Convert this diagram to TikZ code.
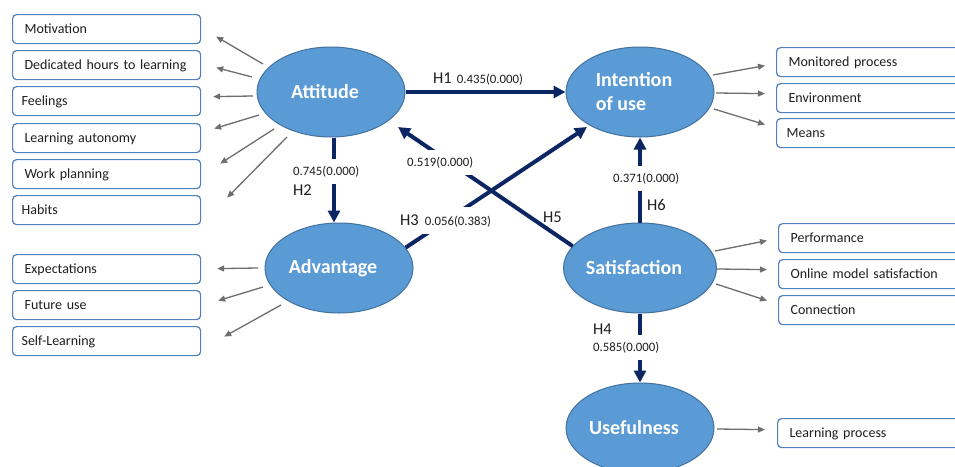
\documentclass[tikz,border=0pt]{standalone}
\usepackage{fontspec}
\setmainfont{Carlito}
\usetikzlibrary{shapes.geometric,arrows.meta}
\definecolor{ellfill}{RGB}{91,155,213}
\definecolor{elldraw}{RGB}{65,113,156}
\definecolor{navy}{RGB}{12,38,100}
\definecolor{boxblue}{RGB}{79,129,189}
\definecolor{grayarr}{RGB}{110,110,110}
\definecolor{txt}{RGB}{30,30,30}
\newcommand\tsh{\hspace*{12pt}}
\newcommand\numfont{\fontsize{12.8}{14}\selectfont}
\begin{document}
\begin{tikzpicture}[x=1pt,y=-1pt,
 ell/.style={ellipse, fill=ellfill, draw=elldraw, line width=1pt, minimum width=148pt, minimum height=90pt, inner sep=0pt, text=white, font=\bfseries\fontsize{20}{24}\selectfont, align=left},
 lbox/.style={draw=boxblue, line width=1.2pt, rounded corners=4pt, fill=white, minimum height=29pt, inner ysep=0pt, inner xsep=12pt, text width=164pt, align=left, anchor=north west, font=\fontsize{14}{16}\selectfont, text height=11pt, text depth=2pt, text=txt},
 rbox/.style={lbox, text width=176pt},
 gar/.style={draw=grayarr, line width=1.3pt, -{Triangle[length=7pt,width=6pt]}},
 nar/.style={draw=navy, line width=4pt, -{Triangle[length=12pt,width=12pt]}},
 hlab/.style={font=\fontsize{16.5}{18}\selectfont, text=txt, inner sep=0pt, anchor=base west},
 nlab/.style={font=\numfont, text=txt, fill=white, inner xsep=1pt, inner ysep=7pt, anchor=base west},
]
\useasboundingbox (0,0) rectangle (955,466);
\fill[white] (0,0) rectangle (955,466);
\clip (0,0) rectangle (955,466);

% ellipses
\node[ell] (att) at (331,92) {Attitude\tsh};
\node[ell] (adv) at (339,268) {Advantage\tsh};
\node[ell] (int) at (640,92) {Intention\tsh\\of use};
\node[ell] (sat) at (640,268) {Satisfaction\tsh};
\node[ell] (use) at (640,428) {Usefulness\tsh};

% left boxes
\node[lbox] (b1) at (12,14) {Motivation};
\node[lbox] (b2) at (12,50) {Dedicated hours to learning};
\node[lbox] (b3) at (12,86) {\hspace*{-3pt}Feelings};
\node[lbox] (b4) at (12,123) {Learning autonomy};
\node[lbox] (b5) at (12,159) {Work planning};
\node[lbox] (b6) at (12,195) {\hspace*{-3pt}Habits};
\node[lbox] (b7) at (12,254) {Expectations};
\node[lbox] (b8) at (12,290) {Future use};
\node[lbox] (b9) at (12,326) {\hspace*{-3pt}Self-Learning};

% right boxes
\node[rbox] (r1) at (776,47) {Monitored process};
\node[rbox] (r2) at (776,83) {Environment};
\node[rbox] (r3) at (776,118) {\hspace*{-2pt}Means};
\node[rbox] (r4) at (778,223) {Performance};
\node[rbox] (r5) at (778,259) {Online model satisfaction};
\node[rbox] (r6) at (778,295) {Connection};
\node[rbox] (r7) at (777,418) {Learning process};

% gray indicator arrows
\draw[gar] ([shift={(-68,-28)}]att.center) -- ([shift={(15,7.5)}]b1.east);
\draw[gar] ([shift={(-79,-15)}]att.center) -- ([shift={(15,2.5)}]b2.east);
\draw[gar] ([shift={(-78,4)}]att.center) -- ([shift={(12,-4.5)}]b3.east);
\draw[gar] ([shift={(-72,23)}]att.center) -- ([shift={(13,-9.5)}]b4.east);
\draw[gar] ([shift={(-57,37)}]att.center) -- ([shift={(19,-10.5)}]b5.east);
\draw[gar] ([shift={(-44,45)}]att.center) -- ([shift={(26,-12.5)}]b6.east);
\draw[gar] ([shift={(-81,0)}]adv.center) -- ([shift={(16,-0.5)}]b7.east);
\draw[gar] ([shift={(-76,19)}]adv.center) -- ([shift={(17,-4.5)}]b8.east);
\draw[gar] ([shift={(-58,37)}]adv.center) -- ([shift={(23,-4.5)}]b9.east);
\draw[gar] ([shift={(73,-17)}]int.center) -- ([shift={(-11,3.5)}]r1.west);
\draw[gar] ([shift={(76,1)}]int.center) -- ([shift={(-11,-4.5)}]r2.west);
\draw[gar] ([shift={(74,17)}]int.center) -- ([shift={(-11,-8.5)}]r3.west);
\draw[gar] ([shift={(75,-17)}]sat.center) -- ([shift={(-11,2.5)}]r4.west);
\draw[gar] ([shift={(77,1)}]sat.center) -- ([shift={(-11,-4.5)}]r5.west);
\draw[gar] ([shift={(76,16)}]sat.center) -- ([shift={(-11,-9.5)}]r6.west);
\draw[gar] ([shift={(77,1)}]use.center) -- ([shift={(-12,-3.5)}]r7.west);

% structural paths
\draw[nar] (att.east) -- (int.west);
\draw[nar] ([xshift=3pt]att.south) -- ([xshift=-5pt]adv.north);
\draw[nar] (sat.162) -- ([shift={(67,35)}]att.center);
\draw[nar] (adv.17) -- ([shift={(-53,35)}]int.center);
\draw[nar] (sat.north) -- (int.south);
\draw[nar] (sat.south) -- (use.north);

% labels
\node[hlab] (lh1) at (433,83) {H1\hspace{5pt}{\numfont 0.435(0.000)}};
\node[nlab] (l745) at (292,175) {0.745(0.000)};
\node[hlab] (lh2) at (293,195) {H2};
\node[nlab, inner xsep=2pt] (lh3) at (398,225) {{\fontsize{16.5}{18}\selectfont H3}\hspace{6pt}0.056(0.383)};
\node[nlab] (l519) at (406,166) {0.519(0.000)};
\node[hlab] (lh5) at (543,222) {H5};
\node[nlab] (l371) at (612,182) {0.371(0.000)};
\node[hlab] (lh6) at (647,210) {H6};
\node[hlab] (lh4) at (593,334) {H4};
\node[nlab] (l585) at (592,351) {0.585(0.000)};
\end{tikzpicture}
\end{document}
